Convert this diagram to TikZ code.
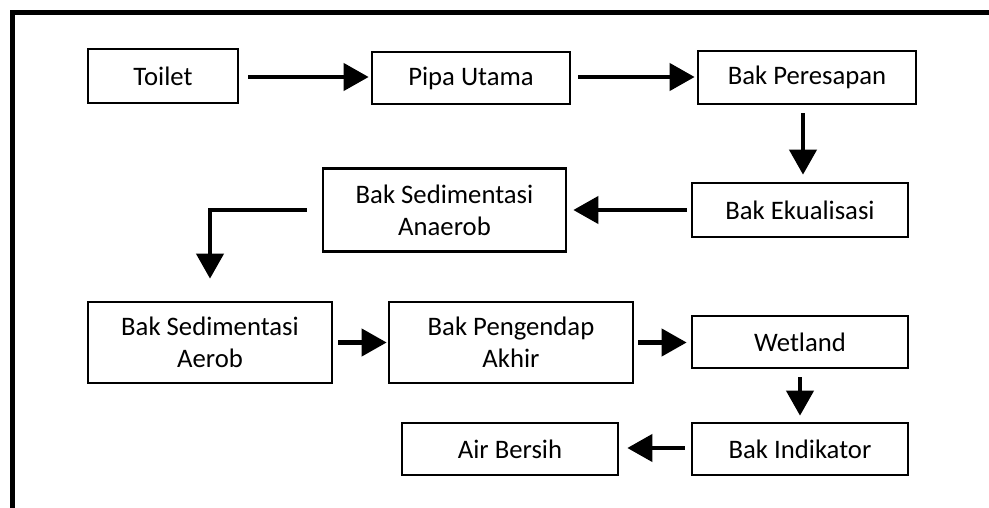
\documentclass[tikz,border=0pt]{standalone}
\usepackage{fontspec}
\setmainfont{Carlito}
\usetikzlibrary{arrows.meta}
\begin{document}
\begin{tikzpicture}[x=1pt,y=-1pt,
  box/.style={draw,line width=2.7pt,inner sep=0pt,align=center,
    font=\fontsize{26.7}{32}\selectfont},
  flow/.style={line width=4.2pt,-{Triangle[length=25pt,width=27pt]}}]
\useasboundingbox (0,0) rectangle (989,508);
% frame
\draw[line width=5pt] (12.5,508) -- (12.5,13) -- (989,13);
% nodes
\node[box,minimum width=150pt,minimum height=54pt] (toilet) at (163,76) {Toilet};
\node[box,minimum width=198pt,minimum height=52pt] (pipa) at (471,78) {Pipa Utama};
\node[box,minimum width=218pt,minimum height=53pt] (peres) at (807,77.5) {Bak Peresapan};
\node[box,minimum width=216pt,minimum height=54pt] (ekual) at (800,210) {Bak Ekualisasi};
\node[box,minimum width=243pt,minimum height=83pt] (anaer) at (444.5,210) {Bak Sedimentasi\\Anaerob};
\node[box,minimum width=244pt,minimum height=81pt] (aerob) at (210,342.5) {Bak Sedimentasi\\Aerob};
\node[box,minimum width=244pt,minimum height=81pt] (pengen) at (511,342.5) {Bak Pengendap\\Akhir};
\node[box,minimum width=216pt,minimum height=52pt] (wet) at (800,342) {Wetland};
\node[box,minimum width=216pt,minimum height=52pt] (indik) at (800,449) {Bak Indikator};
\node[box,minimum width=216pt,minimum height=52pt] (air) at (510,449) {Air Bersih};
% connectors
\draw[flow] ([shift={(9pt,-1pt)}]toilet.east) -- ([shift={(-2pt,1pt)}]pipa.west);
\draw[flow] ([shift={(7pt,1pt)}]pipa.east) -- ([xshift=-2pt,yshift=0.5pt]peres.west);
\draw[flow] ([shift={(-4pt,-8pt)}]peres.south) -- ([shift={(3pt,7pt)}]ekual.north);
\draw[flow] ([xshift=-4pt]ekual.west) -- ([xshift=6pt]anaer.east);
\draw[flow] ([xshift=-15pt]anaer.west) -| ([yshift=22pt]aerob.north);
\draw[flow] ([xshift=5pt]aerob.east) -- ([xshift=-1pt]pengen.west);
\draw[flow] ([xshift=4pt]pengen.east) -- ([xshift=-4pt,yshift=-0.5pt]wet.west);
\draw[flow] ([yshift=-8pt]wet.south) -- ([yshift=6pt]indik.north);
\draw[flow] ([xshift=-6pt,yshift=1pt]indik.west) -- ([xshift=8pt,yshift=1pt]air.east);
\end{tikzpicture}
\end{document}
